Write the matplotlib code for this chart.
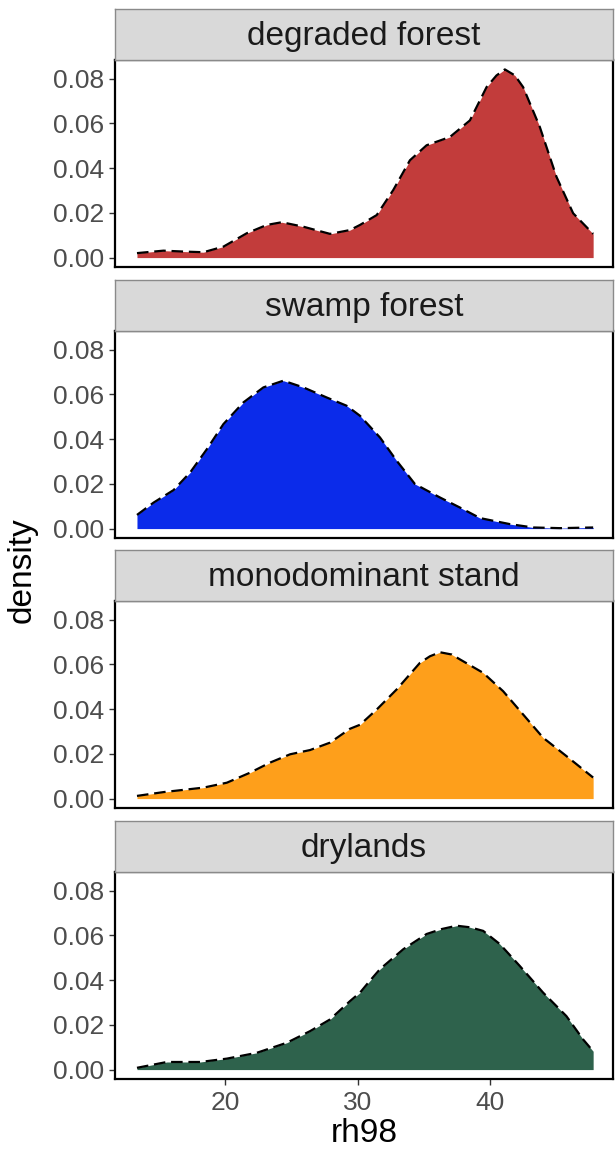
import matplotlib
matplotlib.use("Agg")
import matplotlib.pyplot as plt

plt.rcParams['font.family'] = ['Liberation Sans', 'DejaVu Sans']

# rh98 density curves by forest class
facets = ["degraded forest", "swamp forest", "monodominant stand", "drylands"]
fills = ["#C23C3B", "#0B2BEA", "#FE9F1B", "#2E624C"]

degraded_x = [13.34, 15.34, 16.85, 18.36, 19.87, 21.64, 23.15, 24.28, 25.91, 27.92,
              29.43, 30.19, 31.45, 32.70, 33.96, 35.22, 36.98, 38.49, 39.75, 40.50,
              41.13, 41.89, 42.51, 43.77, 45.03, 46.29, 47.80]
degraded_y = [0.0020, 0.0031, 0.0027, 0.0024, 0.0049, 0.0109, 0.0146, 0.0158, 0.0138, 0.0106,
              0.0123, 0.0146, 0.0190, 0.0302, 0.0435, 0.0502, 0.0539, 0.0613, 0.0762, 0.0814,
              0.0841, 0.0814, 0.0762, 0.0584, 0.0361, 0.0198, 0.0106]

swamp_x = [13.34, 14.59, 16.10, 17.36, 18.62, 19.87, 21.38, 22.89, 24.40, 25.91, 27.67,
           29.18, 30.19, 31.70, 32.96, 34.34, 36.23, 37.74, 39.25, 41.51, 43.27, 45.28, 47.80]
swamp_y = [0.0061, 0.0116, 0.0172, 0.0251, 0.0355, 0.0467, 0.0564, 0.0631, 0.0661, 0.0631, 0.0586,
           0.0549, 0.0504, 0.0407, 0.0303, 0.0199, 0.0139, 0.0094, 0.0047, 0.0020, 0.0005, 0.0002, 0.0005]

mono_x = [13.34, 15.34, 18.36, 20.13, 21.89, 23.40, 24.91, 26.42, 27.92, 29.43, 30.19,
          31.45, 32.96, 34.72, 35.47, 36.23, 37.11, 37.74, 39.49, 41.00, 42.51, 44.02, 45.78, 47.80]
mono_y = [0.0012, 0.0029, 0.0049, 0.0071, 0.0116, 0.0161, 0.0198, 0.0217, 0.0250, 0.0312, 0.0330,
          0.0398, 0.0488, 0.0607, 0.0636, 0.0654, 0.0644, 0.0622, 0.0562, 0.0480, 0.0376, 0.0272, 0.0190, 0.0094]

dry_x = [13.34, 15.60, 18.11, 20.13, 22.39, 24.66, 26.42, 27.92, 29.43, 30.19, 30.82, 31.70,
         33.46, 35.22, 36.35, 37.49, 38.49, 39.49, 40.75, 42.26, 44.02, 45.78, 47.04, 47.80]
dry_y = [0.0008, 0.0034, 0.0034, 0.0049, 0.0075, 0.0120, 0.0172, 0.0224, 0.0306, 0.0344, 0.0389, 0.0449,
         0.0538, 0.0606, 0.0628, 0.0643, 0.0636, 0.0620, 0.0561, 0.0463, 0.0344, 0.0239, 0.0135, 0.0082]

series = [(degraded_x, degraded_y), (swamp_x, swamp_y), (mono_x, mono_y), (dry_x, dry_y)]

y_ticks = [0.00, 0.02, 0.04, 0.06, 0.08]
y_ticklabels = ["0.00", "0.02", "0.04", "0.06", "0.08"]
x_ticks = [20, 30, 40]
x_ticklabels = ["20", "30", "40"]

W, H = 615, 1154
fig = plt.figure(figsize=(W / 100, H / 100), dpi=100)

left_px, right_px = 115, 613
panel_tops = [60, 331, 601, 872]
panel_h = 207
strip_h = 51

ymax = max(max(y) for _, y in series)
ylim = (-0.05 * ymax, 1.05 * ymax)
xlim = (11.68, 49.3)

tick_col = "#4D4D4D"

for i, (name, col, (xs, ys)) in enumerate(zip(facets, fills, series)):
    top = panel_tops[i]
    ax = fig.add_axes([left_px / W, 1 - (top + panel_h) / H,
                       (right_px - left_px) / W, panel_h / H])
    ax.fill_between(xs, 0, ys, color=col, linewidth=0)
    ax.plot(xs, ys, color="black", lw=1.6, dashes=(5.2, 2.6),
            solid_joinstyle="round", dash_joinstyle="round")
    ax.set_xlim(*xlim)
    ax.set_ylim(*ylim)
    ax.set_yticks(y_ticks)
    ax.set_yticklabels(y_ticklabels)
    ax.set_xticks(x_ticks)
    for s in ax.spines.values():
        s.set_color("black")
        s.set_linewidth(1.6)
    ax.tick_params(axis="y", length=4.5, width=1.0, color="#333333",
                   labelsize=19, labelcolor=tick_col, pad=3)
    if i == len(facets) - 1:
        ax.set_xticklabels(x_ticklabels)
        ax.tick_params(axis="x", length=4.5, width=1.0, color="#333333",
                       labelsize=19, labelcolor=tick_col, pad=4)
        ax.set_xlabel("rh98", fontsize=24, color="black", labelpad=2)
    else:
        ax.tick_params(axis="x", length=0, labelbottom=False)

    # facet strip
    sax = fig.add_axes([left_px / W, 1 - top / H,
                        (right_px - left_px) / W, strip_h / H])
    sax.set_facecolor("#D9D9D9")
    sax.set_xticks([])
    sax.set_yticks([])
    for s in sax.spines.values():
        s.set_color("#8A8A8A")
        s.set_linewidth(1.0)
    sax.text(0.5, 0.47, name, ha="center", va="center", fontsize=24,
             color="#1A1A1A", transform=sax.transAxes)

fig.text(22 / W, 1 - 570 / H, "density", rotation=90, ha="center", va="center",
         fontsize=24, color="black")

fig.savefig("out.png", dpi=100, facecolor="white")
